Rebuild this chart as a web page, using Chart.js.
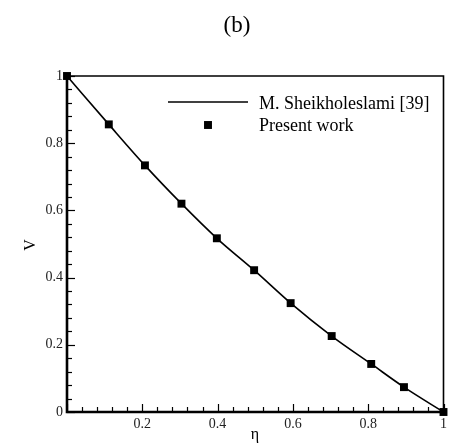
<!DOCTYPE html>
<html>
<head>
<meta charset="utf-8">
<script src="https://cdn.jsdelivr.net/npm/chart.js@4/dist/chart.umd.min.js"></script>
<style>
  html, body { margin: 0; padding: 0; background: #fff; }
  canvas { display: block; }
</style>
</head>
<body>
<canvas id="velocityChart" width="451" height="446"></canvas>
<script>
// eta positions and V values
const etaValues = [0, 0.111, 0.207, 0.304, 0.398, 0.497, 0.594, 0.703, 0.808, 0.895, 1];
const presentWorkV = [1, 0.856, 0.734, 0.620, 0.517, 0.422, 0.324, 0.226, 0.143, 0.074, 0];
const referenceV = [1, 0.856, 0.734, 0.620, 0.517, 0.422, 0.324, 0.226, 0.143, 0.074, 0];

const xMajorTicks = [0, 0.2, 0.4, 0.6, 0.8, 1];
const yMajorTicks = [0, 0.2, 0.4, 0.6, 0.8, 1];
const minorStep = 0.04;

const serif = '"Liberation Serif", "Times New Roman", serif';

const toPoints = (xs, ys) => xs.map((x, i) => ({ x: x, y: ys[i] }));

// frame, inward ticks, title, axis titles and the inset legend
const decorations = {
    id: 'decorations',
    beforeDatasetsDraw(chart) {
        const ctx = chart.ctx;
        const { left, right, top, bottom } = chart.chartArea;
        const xs = chart.scales.x;
        const ys = chart.scales.y;
        ctx.save();
        ctx.strokeStyle = '#000';

        // ticks along bottom and left
        ctx.lineWidth = 1.2;
        for (let v = 0; v <= 1.0001; v += minorStep) {
            const major = Math.abs(v * 5 - Math.round(v * 5)) < 1e-6;
            const len = major ? 8 : 5;
            const px = Math.round(xs.getPixelForValue(v)) + 0.5;
            ctx.beginPath();
            ctx.moveTo(px, bottom);
            ctx.lineTo(px, bottom - len);
            ctx.stroke();
            const py = Math.round(ys.getPixelForValue(v)) + 0.5;
            ctx.beginPath();
            ctx.moveTo(left, py);
            ctx.lineTo(left + len, py);
            ctx.stroke();
        }

        // thin top and right border
        ctx.lineWidth = 1.6;
        ctx.beginPath();
        ctx.moveTo(left, top);
        ctx.lineTo(right, top);
        ctx.lineTo(right, bottom);
        ctx.stroke();

        // heavier left and bottom axes
        ctx.lineWidth = 2.6;
        ctx.beginPath();
        ctx.moveTo(left, top);
        ctx.lineTo(left, bottom);
        ctx.lineTo(right, bottom);
        ctx.stroke();
        ctx.restore();
    },
    afterDraw(chart) {
        const ctx = chart.ctx;
        const [lineSet, markSet] = chart.data.datasets;
        ctx.save();
        ctx.fillStyle = '#000';
        ctx.textBaseline = 'middle';

        ctx.textAlign = 'center';
        ctx.font = '23px ' + serif;
        ctx.fillText('(b)', 237, 26);

        ctx.font = '16px ' + serif;
        ctx.fillText('\u03b7', 255, 435);

        ctx.save();
        ctx.translate(31, 245);
        ctx.rotate(-Math.PI / 2);
        ctx.fillText('V', 0, 0);
        ctx.restore();

        // legend
        ctx.textAlign = 'left';
        ctx.textBaseline = 'alphabetic';
        ctx.font = '18px ' + serif;
        ctx.strokeStyle = lineSet.borderColor;
        ctx.lineWidth = lineSet.borderWidth;
        ctx.beginPath();
        ctx.moveTo(168, 102);
        ctx.lineTo(248, 102);
        ctx.stroke();
        ctx.fillText(lineSet.label, 259, 109);

        const side = markSet.pointRadius * Math.SQRT2;
        ctx.fillStyle = markSet.backgroundColor;
        ctx.fillRect(208 - side / 2, 125 - side / 2, side, side);
        ctx.fillStyle = '#000';
        ctx.fillText(markSet.label, 259, 131);
        ctx.restore();
    }
};

new Chart(document.getElementById('velocityChart').getContext('2d'), {
    type: 'scatter',
    data: {
        datasets: [{
            label: 'M. Sheikholeslami [39]',
            type: 'line',
            data: toPoints(etaValues, referenceV),
            borderColor: '#000',
            borderWidth: 1.6,
            pointRadius: 0,
            fill: false,
            cubicInterpolationMode: 'monotone',
            clip: false
        }, {
            label: 'Present work',
            data: toPoints(etaValues, presentWorkV),
            pointStyle: 'rect',
            pointRadius: 5.6,
            backgroundColor: '#000',
            borderWidth: 0,
            clip: false
        }]
    },
    options: {
        responsive: false,
        animation: false,
        devicePixelRatio: 1,
        layout: { padding: { left: 0, top: 76, right: 4, bottom: 0 } },
        plugins: {
            legend: { display: false },
            tooltip: { enabled: false }
        },
        scales: {
            x: {
                type: 'linear',
                min: 0,
                max: 1,
                afterBuildTicks: (scale) => { scale.ticks = xMajorTicks.map(v => ({ value: v })); },
                afterFit: (scale) => { scale.height = 34; },
                grid: { display: false, drawTicks: false },
                border: { display: false },
                ticks: {
                    padding: 4,
                    color: '#222',
                    font: { family: serif, size: 14 },
                    maxRotation: 0,
                    callback: (v) => (v === 0 ? '' : String(v))
                }
            },
            y: {
                type: 'linear',
                min: 0,
                max: 1,
                afterBuildTicks: (scale) => { scale.ticks = yMajorTicks.map(v => ({ value: v })); },
                afterFit: (scale) => { scale.width = 67; },
                grid: { display: false, drawTicks: false },
                border: { display: false },
                ticks: {
                    padding: 4,
                    color: '#222',
                    font: { family: serif, size: 14 },
                    callback: (v) => String(v)
                }
            }
        }
    },
    plugins: [decorations]
});
</script>
</body>
</html>
